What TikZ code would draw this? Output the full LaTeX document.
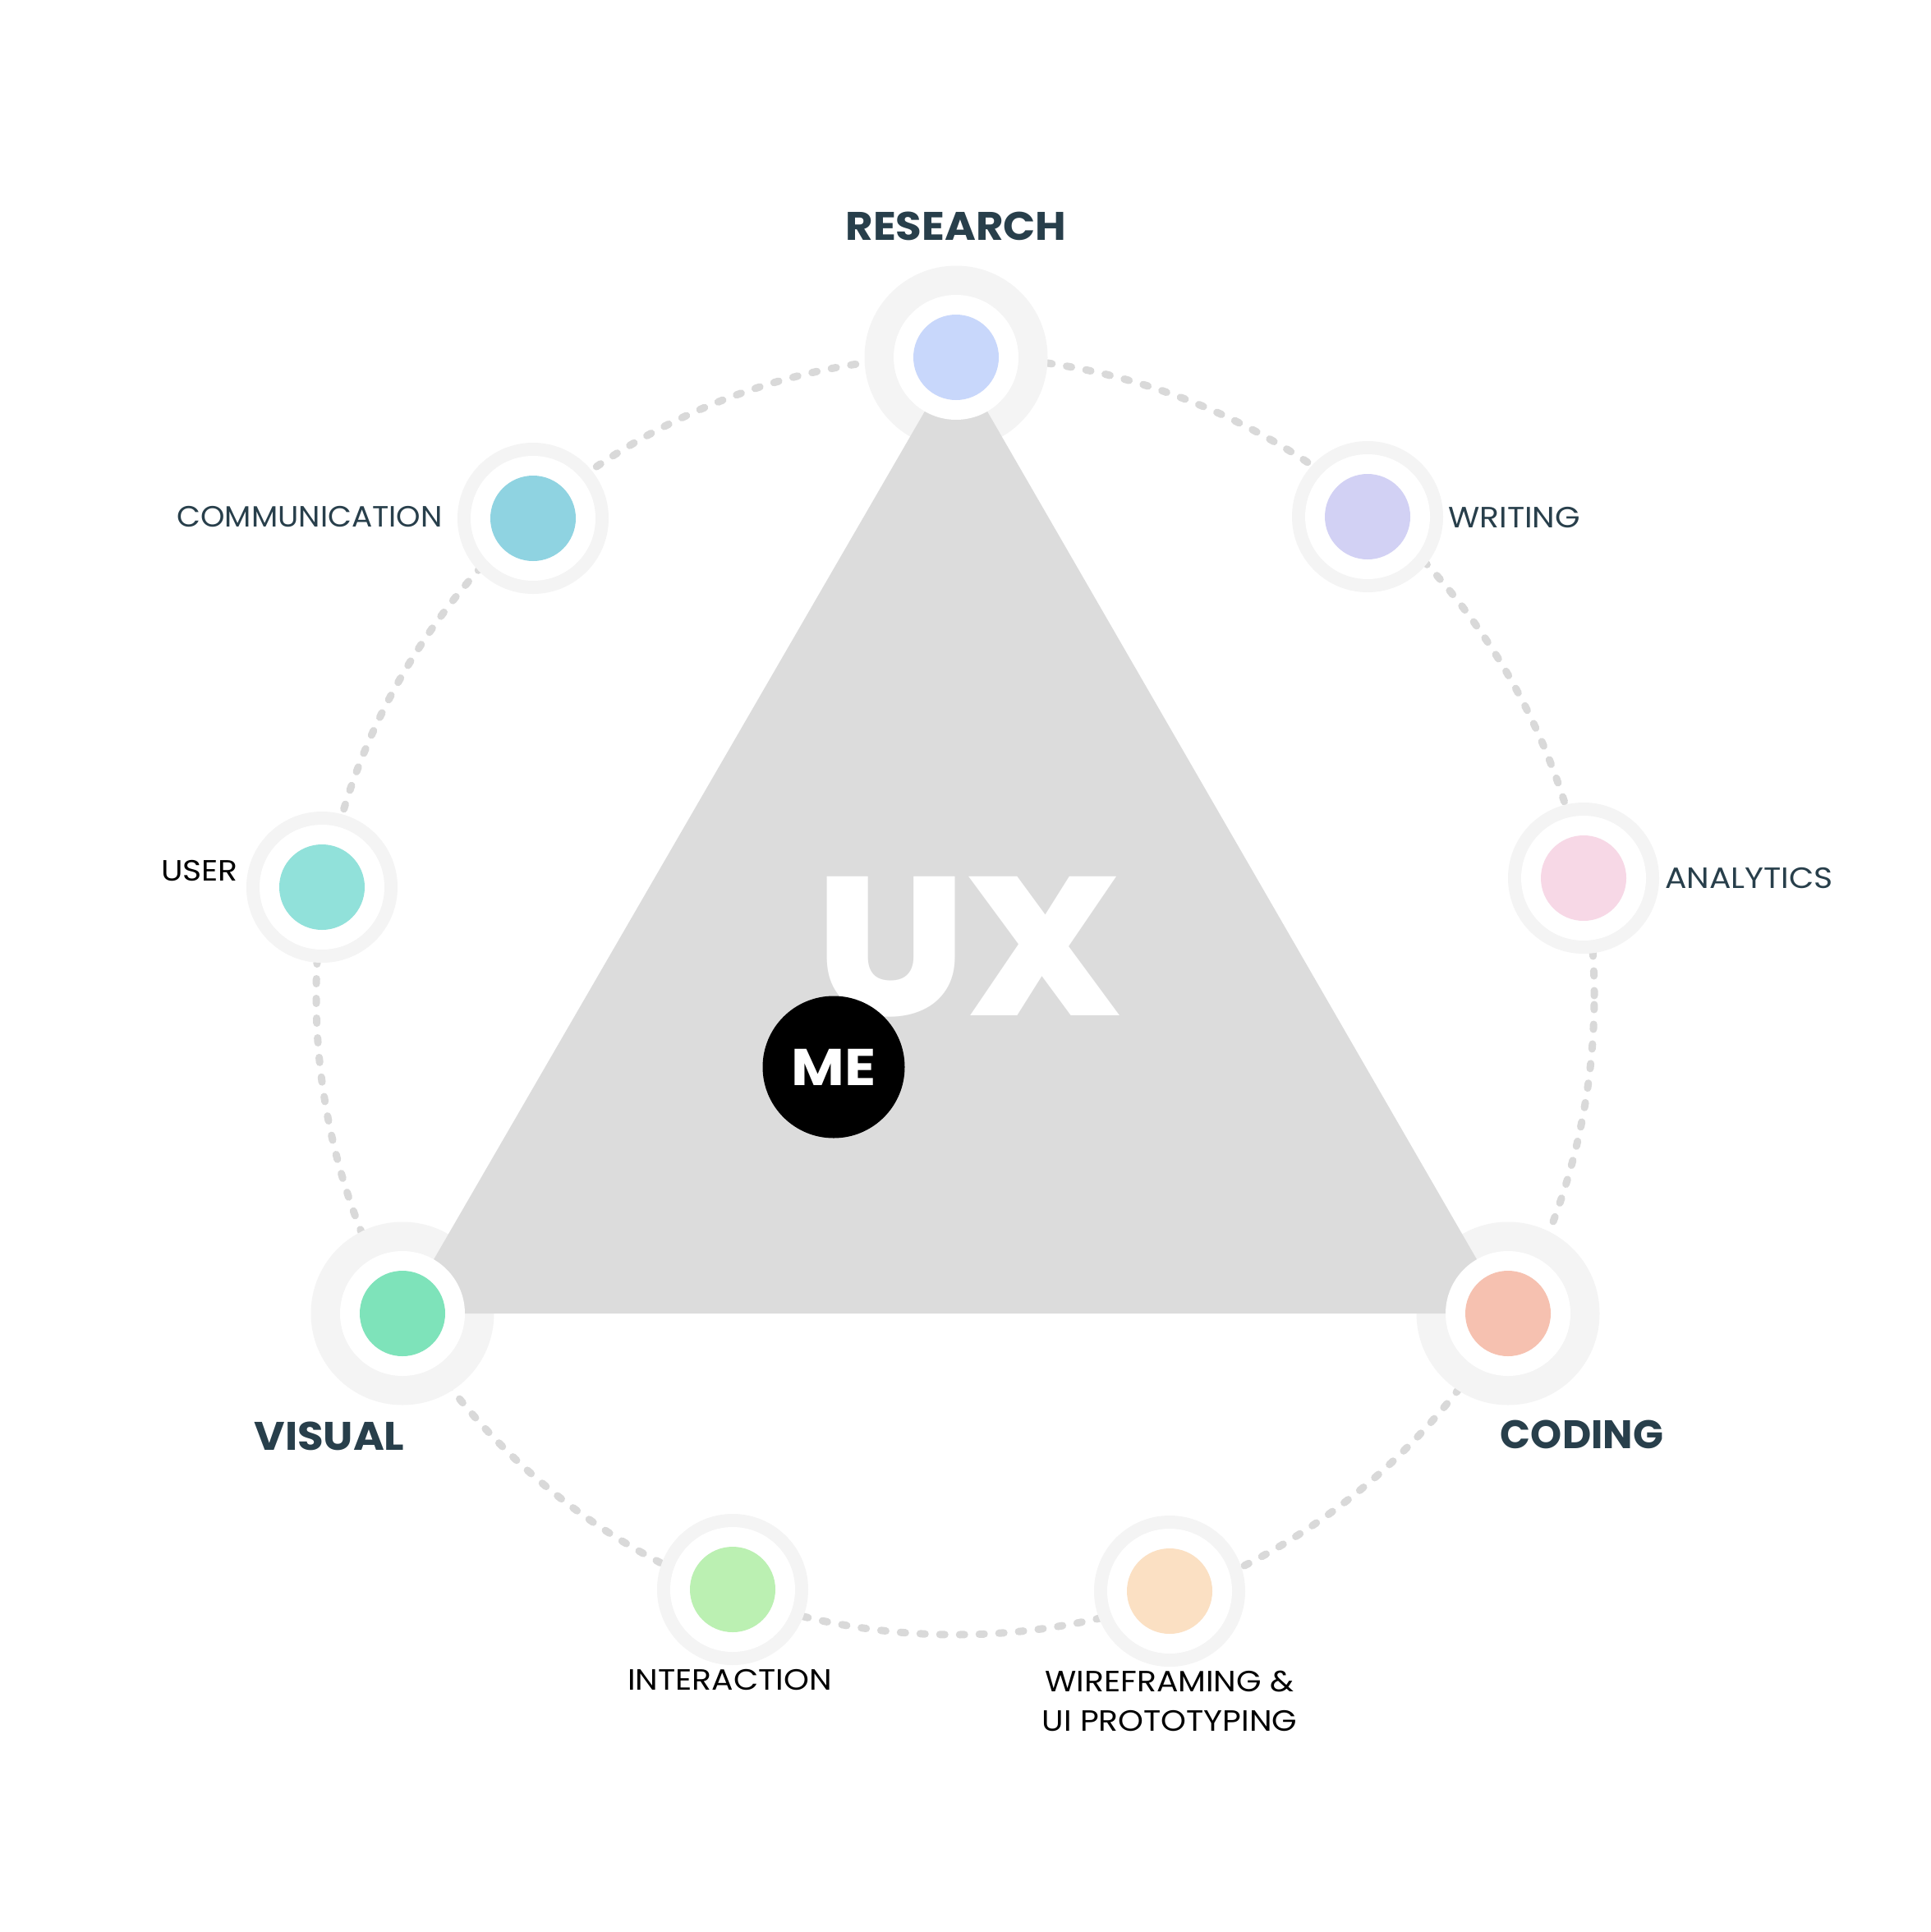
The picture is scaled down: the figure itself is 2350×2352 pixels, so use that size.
\documentclass[tikz,border=0pt]{standalone}
\usepackage{fontspec}
\setmainfont{Poppins}
\newfontfamily\bigfont{Poppins}[FakeStretch=1.06]
\newfontfamily\bigfontn{Poppins}[FakeStretch=1.0]
\newfontfamily\smallfont{Poppins}[FakeStretch=1.1]
\newfontfamily\smallfontn{Poppins}[FakeStretch=1.05]
\newfontfamily\uxfont{Poppins}[UprightFont=*-ExtraBold,FakeStretch=1.07]
\newfontfamily\mefont{Poppins}[FakeStretch=1.12]
\definecolor{ringgray}{HTML}{F4F4F4}
\definecolor{trigray}{HTML}{DCDCDC}
\definecolor{dotgray}{HTML}{D9D9D9}
\definecolor{slate}{HTML}{283F4B}
\definecolor{cResearch}{HTML}{C8D7FB}
\definecolor{cWriting}{HTML}{D2D1F4}
\definecolor{cAnalytics}{HTML}{F7D8E6}
\definecolor{cCoding}{HTML}{F6C1B0}
\definecolor{cWire}{HTML}{FBE0C3}
\definecolor{cInter}{HTML}{BBF0B2}
\definecolor{cVisual}{HTML}{7EE3BA}
\definecolor{cUser}{HTML}{91E1DA}
\definecolor{cComm}{HTML}{8FD3E1}
\begin{document}
\begin{tikzpicture}[x=1pt,y=-1pt,
  bigring/.style={circle,fill=ringgray,inner sep=0pt,minimum size=223pt},
  smallring/.style={circle,fill=ringgray,inner sep=0pt,minimum size=184pt},
  hole/.style={circle,fill=white,inner sep=0pt,minimum size=152pt},
  colordot/.style={circle,inner sep=0pt,minimum size=104pt},
  dotline/.style={draw=dotgray,line width=9pt,line cap=round,dash pattern=on 6pt off 18pt},
  tri/.style={fill=trigray},
  biglbl/.style={inner sep=0pt,text=slate,font=\bigfont\fontsize{48.5}{58}\selectfont\bfseries},
  smalllbl/.style={inner sep=0pt,text=slate,font=\smallfont\fontsize{35.7}{48}\selectfont},
  blacklbl/.style={inner sep=0pt,text=black,font=\smallfont\fontsize{35.7}{48}\selectfont},
  uxtext/.style={inner sep=0pt,text=white,font=\uxfont\fontsize{240}{250}\selectfont},
  mecirc/.style={circle,fill=black,inner sep=0pt,minimum size=173pt,text=white,font=\mefont\fontsize{63}{70}\selectfont\bfseries}
]
\useasboundingbox (0,0) rectangle (2350,2352);
\fill[white] (0,0) rectangle (2350,2352);
\coordinate (ctr) at (1163,1212);
\draw[dotline] (ctr) circle[radius=778pt];
% rings
\node[bigring] (research) at (1164,435) {};
\node[smallring] (writing) at (1665,629) {};
\node[smallring] (analytics) at (1928,1069) {};
\node[bigring] (coding) at (1836,1599) {};
\node[smallring] (wire) at (1424,1937) {};
\node[smallring] (inter) at (892,1935) {};
\node[bigring] (visual) at (490,1599) {};
\node[smallring] (user) at (392,1080) {};
\node[smallring] (comm) at (649,631) {};
% triangle
\fill[tri] (research.center) -- (coding.center) -- (visual.center) -- cycle;
% holes and dots
\foreach \n/\c in {research/cResearch,writing/cWriting,analytics/cAnalytics,coding/cCoding,wire/cWire,inter/cInter,visual/cVisual,user/cUser,comm/cComm}{
  \node[hole] (\n-h) at (\n) {};
  \node[colordot,fill=\c] (\n-d) at (\n) {};
}
% center texts
\node[uxtext,anchor=base] (ux) at (1180,1236) {UX};
\node[mecirc] (me) at (1015,1299) {ME};
% labels
\node[biglbl,anchor=base] (research-l) at (1164,292) {RESEARCH};
\node[biglbl,font=\bigfontn\fontsize{48.5}{58}\selectfont\bfseries,anchor=base] (coding-l) at (1926,1763) {CODING};
\node[biglbl,anchor=base] (visual-l) at (401,1765) {VISUAL};
\node[smalllbl,anchor=base west] (writing-l) at (1763,642) {WRITING};
\node[smalllbl,anchor=base west] (analytics-l) at (2027,1081) {ANALYTICS};
\node[smalllbl,font=\smallfontn\fontsize{35.7}{48}\selectfont,anchor=base east] (comm-l) at (539,641) {COMMUNICATION};
\node[blacklbl,anchor=base east] (user-l) at (290,1072) {USER};
\node[blacklbl,anchor=base] (inter-l) at (888.5,2057) {INTERACTION};
\node[blacklbl,anchor=base] (wire-l1) at (1424,2059) {WIREFRAMING \&};
\node[blacklbl,anchor=base] (wire-l2) at (1424,2107) {UI PROTOTYPING};
\end{tikzpicture}
\end{document}
